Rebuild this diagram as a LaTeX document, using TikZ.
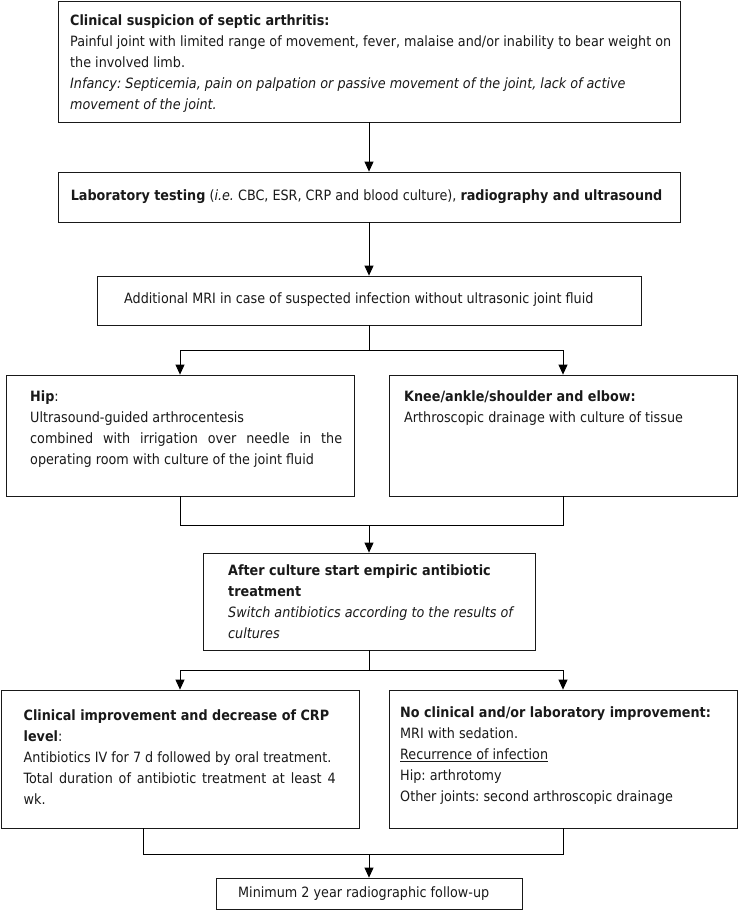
\documentclass[tikz,border=0pt]{standalone}
\usepackage{fontspec}
\setmainfont{DejaVu Sans Condensed}[BoldFont={DejaVu Sans Condensed Bold},ItalicFont={DejaVu Sans Condensed Oblique},BoldItalicFont={DejaVu Sans Condensed Bold Oblique}]
\usetikzlibrary{arrows.meta}
\frenchspacing
\tikzset{
  box/.style={draw=black!90,line width=0.8pt,inner sep=0pt,rectangle},
  txt/.style={anchor=north west,inner sep=0pt,align=left,text=black!90,font=\fontsize{14.2}{20.8}\selectfont},
  one/.style={anchor=base west,inner sep=0pt,text=black!90,font=\fontsize{14.2}{20.8}\selectfont},
  conn/.style={draw=black,line width=0.8pt},
  arr/.style={conn,-{Triangle[width=9pt,length=10pt]}}
}
\begin{document}
\begin{tikzpicture}[x=1pt,y=-1pt]
\useasboundingbox (0,0) rectangle (738,911);
% boxes
\node[box,minimum width=622pt,minimum height=121pt] (b1) at (369,61.5) {};
\node[box,minimum width=622pt,minimum height=50pt] (b2) at (369,197) {};
\node[box,minimum width=544pt,minimum height=49pt] (b3) at (369,300.5) {};
\node[box,minimum width=348pt,minimum height=121pt] (b4) at (180,435.5) {};
\node[box,minimum width=348pt,minimum height=121pt] (b5) at (563,435.5) {};
\node[box,minimum width=332pt,minimum height=97pt] (b6) at (369,601.5) {};
\node[box,minimum width=358pt,minimum height=138pt] (b7) at (180,759) {};
\node[box,minimum width=348pt,minimum height=138pt] (b8) at (563,759) {};
\node[box,minimum width=306pt,minimum height=31pt] (b9) at (369,893.5) {};
% texts
\node[txt] (t1) at (70,11.1) {\strut\textbf{Clinical suspicion of septic arthritis:}\\
Painful joint with limited range of movement, fever, malaise and/or inability to bear weight on\\
the involved limb.\\
\textit{Infancy: Septicemia, pain on palpation or passive movement of the joint, lack of active}\\
\textit{movement of the joint.}};
\node[one] (t2) at (70.6,200.7) {\textbf{Laboratory testing} (\textit{i.e.} CBC, ESR, CRP and blood culture), \textbf{radiography and ultrasound}};
\node[one] (t3) at (124,303.7) {Additional MRI in case of suspected infection without ultrasonic joint fluid};
\node[txt] (t4) at (30,387.1) {\strut\textbf{Hip}:\\
Ultrasound-guided arthrocentesis\\
\makebox[312pt][s]{combined with irrigation over needle in the}\\
operating room with culture of the joint fluid};
\node[txt] (t5) at (404,387.1) {\strut\textbf{Knee/ankle/shoulder and elbow:}\\
Arthroscopic drainage with culture of tissue};
\node[txt] (t6) at (228,561.1) {\strut\textbf{After culture start empiric antibiotic}\\
\textbf{treatment}\\
\textit{Switch antibiotics according to the results of}\\
\textit{cultures}};
\node[txt] (t7) at (23.5,706.1) {\strut\textbf{Clinical improvement and decrease of CRP}\\
\textbf{level}:\\
Antibiotics IV for 7 d followed by oral treatment.\\
\makebox[312pt][s]{Total duration of antibiotic treatment at least 4}\\
wk.};
\node[txt] (t8) at (400,703.1) {\strut\textbf{No clinical and/or laboratory improvement:}\\
MRI with sedation.\\
\underline{Recurrence of infection}\\
Hip: arthrotomy\\
Other joints: second arthroscopic drainage};
\node[one] (t9) at (238,897.7) {Minimum 2 year radiographic follow-up};
% connectors
\draw[arr] (b1.south) -- (b2.north);
\draw[arr] (b2.south) -- (b3.north);
\coordinate (s1) at (369,350);
\draw[conn] (b3.south) -- (s1);
\draw[arr] (s1) -| (b4.north);
\draw[arr] (s1) -| (b5.north);
\coordinate (m1) at (369,525);
\draw[conn] (b4.south) |- (m1);
\draw[conn] (b5.south) |- (m1);
\draw[arr] (m1) -- (b6.north);
\coordinate (s2) at (369,670);
\draw[conn] (b6.south) -- (s2);
\draw[arr] (s2) -| (b7.north);
\draw[arr] (s2) -| (b8.north);
\coordinate (m2) at (369,854);
\draw[conn] ([xshift=143pt]b7.south west) |- (m2);
\draw[conn] (b8.south) |- (m2);
\draw[arr] (m2) -- (b9.north);
\end{tikzpicture}
\end{document}
